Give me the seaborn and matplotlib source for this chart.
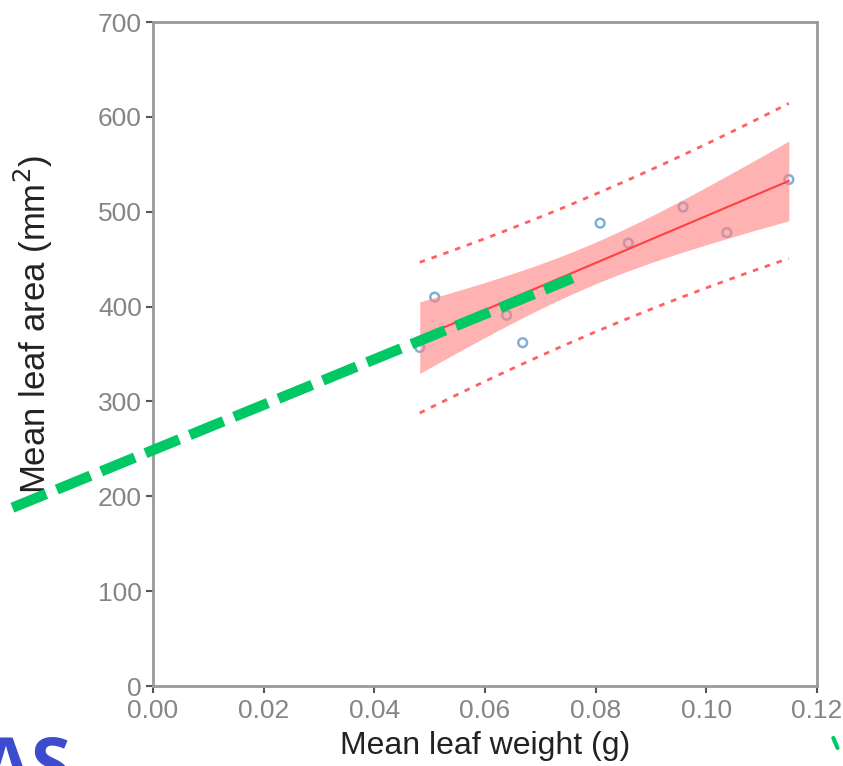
import numpy as np
import pandas as pd
import matplotlib
matplotlib.use("Agg")
import matplotlib.pyplot as plt
import seaborn as sns
from matplotlib.lines import Line2D

# data
leaf_weight = [0.0482, 0.0509, 0.0639, 0.0668, 0.0808, 0.0859, 0.0958, 0.1037, 0.1149]
leaf_area = [357, 410, 391, 362, 488, 467, 505, 478, 534]
x_ticks = [0.00, 0.02, 0.04, 0.06, 0.08, 0.10, 0.12]
y_ticks = [0, 100, 200, 300, 400, 500, 600, 700]
# green overlay stroke, data coords (runs past the axes)
green_x = [-0.0254, 0.0758]
green_y = [188, 430]

df = pd.DataFrame({"weight": leaf_weight, "area": leaf_area})

sns.set_theme(style="white")
plt.rcParams["font.family"] = ["Liberation Sans", "DejaVu Sans"]

fig = plt.figure(figsize=(8.43, 7.66), dpi=100)
ax = fig.add_axes([0.1815, 0.1044, 0.7877, 0.8668])

# points
sns.scatterplot(data=df, x="weight", y="area", ax=ax, s=40, marker="o",
                facecolors="none", edgecolor="#7fb0d8", linewidth=1.8, zorder=2)

# fit, 95% confidence band and prediction interval
x = df["weight"].to_numpy()
y = df["area"].to_numpy()
n = len(x)
slope, intercept = np.polyfit(x, y, 1)
resid = y - (intercept + slope * x)
s = np.sqrt((resid ** 2).sum() / (n - 2))
t = 2.365
xx = np.linspace(x.min(), x.max(), 100)
yy = intercept + slope * xx
sxx = ((x - x.mean()) ** 2).sum()
se_fit = s * np.sqrt(1 / n + (xx - x.mean()) ** 2 / sxx)
se_pred = s * np.sqrt(1 + 1 / n + (xx - x.mean()) ** 2 / sxx)
fit_df = pd.DataFrame({"weight": xx, "area": yy})

ax.fill_between(xx, yy - t * se_fit * 0.88, yy + t * se_fit * 0.88, color="#ff8080", alpha=0.6,
                linewidth=0, zorder=3)
sns.lineplot(data=fit_df, x="weight", y="area", ax=ax, color="#ff4040", linewidth=1.5, zorder=4)
ax.plot(xx, yy + t * se_pred * 0.92, color="#ff6060", linestyle=(0, (2, 2.5)), linewidth=2, zorder=4)
ax.plot(xx, yy - t * se_pred * 0.92, color="#ff6060", linestyle=(0, (2, 2.5)), linewidth=2, zorder=4)

ax.set_xlim(0, 0.12)
ax.set_ylim(0, 700)
ax.set_xticks(x_ticks)
ax.set_yticks(y_ticks)
ax.set_xticklabels([f"{v:.2f}" for v in x_ticks])
ax.set_xlabel("Mean leaf weight (g)", fontsize=23, color="#222222", labelpad=6)
ax.set_ylabel("Mean leaf area (mm$^2$)", fontsize=25, color="#222222")
ax.yaxis.set_label_coords(-0.147, 0.545)
ax.tick_params(axis="both", labelsize=19, labelcolor="#858585", colors="#555555",
               direction="out", length=5, width=1.5, bottom=True, left=True)
ax.tick_params(axis="x", pad=4)
ax.tick_params(axis="y", pad=3)
for sp in ax.spines.values():
    sp.set_color("#999999")
    sp.set_linewidth(2)

# overlay annotations
ax.plot(green_x, green_y, color="#00c864", linewidth=7.5, linestyle=(0, (3.5, 1.1)),
        clip_on=False, zorder=6, solid_capstyle="butt")
fig.add_artist(Line2D([0.9885, 0.9935], [0.0366, 0.0235], transform=fig.transFigure,
                      color="#00c864", linewidth=3))
fig.text(-0.022, -0.03, "AS", fontsize=52, fontweight="bold", color="#3d4ccf",
         family=["Open Sans", "DejaVu Sans"])

fig.savefig("out.png", dpi=100)
